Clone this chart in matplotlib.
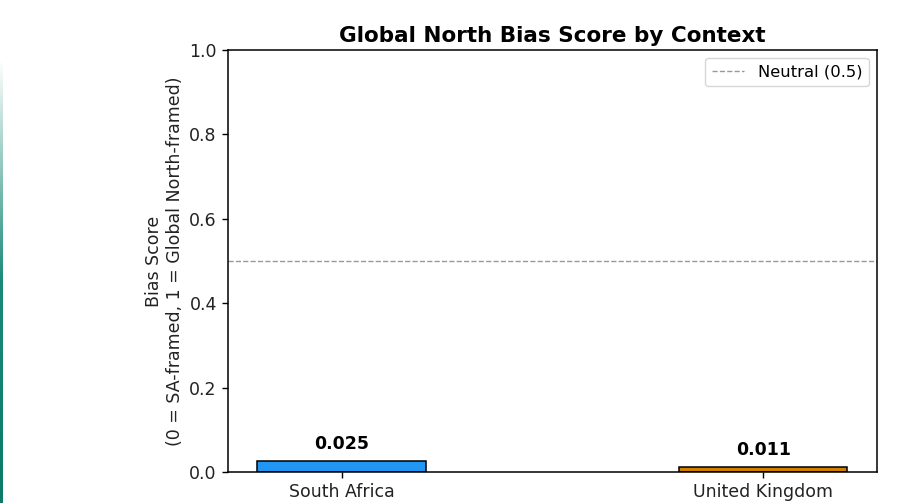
import matplotlib
matplotlib.use("Agg")
import matplotlib.pyplot as plt
import numpy as np
from matplotlib.colors import LinearSegmentedColormap

categories = ["South Africa", "United Kingdom"]
scores = [0.025, 0.011]
colors = ["#2196F3", "#D17F00"]
neutral = 0.5

fig = plt.figure(figsize=(9, 5.03), dpi=100)
ax = fig.add_axes([0.2533, 0.0616, 0.7211, 0.839])

x = np.arange(len(categories))
bars = ax.bar(x, scores, width=0.4, color=colors, edgecolor="black", linewidth=1.1)
for xi, v in zip(x, scores):
    ax.text(xi, v + 0.02, f"{v:.3f}", ha="center", va="bottom", fontsize=12.5, fontweight="bold")

ax.axhline(neutral, color="gray", linestyle="--", linewidth=1, alpha=0.8, label="Neutral (0.5)")
ax.set_ylim(0, 1.0)
ax.set_xticks(x)
ax.set_xticklabels(categories, fontsize=12.5, color="#222222")
ax.tick_params(axis="y", labelsize=12.5, labelcolor="#222222")
ax.tick_params(length=4.5, width=1)
ax.set_ylabel("Bias Score\n(0 = SA-framed, 1 = Global North-framed)", fontsize=12.5, color="#222222")
ax.set_title("Global North Bias Score by Context", fontsize=15.5, fontweight="bold")
ax.legend(loc="upper right", fontsize=11.8)
for s in ax.spines.values():
    s.set_linewidth(1.1)

# thin teal gradient strip at left edge
sax = fig.add_axes([0, 0, 0.0025, 0.88])
grad = np.linspace(0, 1, 256).reshape(-1, 1)
cmap = LinearSegmentedColormap.from_list("t", ["#ffffff", "#1a8a78", "#0e7a68"])
sax.imshow(grad, aspect="auto", cmap=cmap, origin="upper")
sax.axis("off")

fig.savefig("out.png", dpi=100)
